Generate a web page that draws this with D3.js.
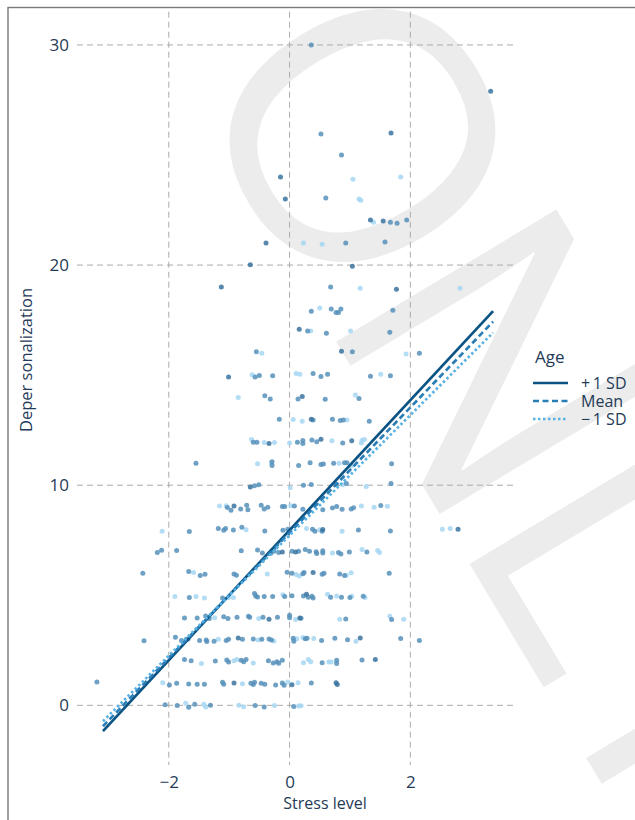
<!DOCTYPE html>
<html>
<head>
<meta charset="utf-8">
<script src="https://cdn.jsdelivr.net/npm/d3@7"></script>
<style>
  body { margin: 0; background: #fff; }
  svg text { font-family: "Open Sans", "Noto Sans", sans-serif; fill: #1f3b57; }
</style>
</head>
<body>
<div id="chart"></div>
<script>
// DATA (stress level, depersonalization) by age group

const plusSD = [
  [-0.92,1.01],[0.04,0.94],[0.77,1.03],[0.79,0.95],
  [1.42,2.08],
  [-0.85,3.06],[1.17,3.06],
  [-0.34,3.91],[0.17,3.97],
  [0.28,5.05],
  [0.39,6.03],
  [-0.12,6.97],[0.10,6.97],
  [0.55,7.99],[2.79,8.0],
  [-0.92,9.06],
  [-0.65,9.92],
  [-0.34,11.9],[0.52,12.09],[1.03,12.02],
  [0.36,13.0],
  [0.21,14.03],
  [-1.01,14.91],
  [0.86,16.09],
  [0.16,17.08],
  [-1.13,19.0],[1.77,18.9],
  [-0.65,20.02],[1.04,19.95],
  [-0.39,21.0],
  [1.34,22.05],[1.55,22.0],
  [-0.07,23.0],
  [-0.15,24.0],
  [1.68,26.0],
  [3.33,27.9]
]

const meanAge = [
  [-2.06,0.03],[-1.86,-0.01],[-1.67,-0.09],[-1.57,0.05],[-1.31,0],[-0.57,-0.01],[-0.42,-0.08],[0.07,-0.05],
  [-3.19,1.06],[-1.99,0.92],[-1.87,1.0],[-1.67,0.97],[-1.53,0.96],[-1.41,0.96],[-1.11,1.05],[-1.09,0.96],
  [-0.64,1.0],[-0.60,0.95],[-0.58,1.05],[-0.47,1.0],[-0.41,0.96],[-0.23,0.92],[-0.12,1.01],[-0.09,0.91],[0.36,1.01],
  [-1.74,2.08],[-1.63,2.03],[-1.23,2.01],[-1.04,2.06],[-1.01,1.97],[-0.80,2.05],[-0.76,1.98],[-0.72,2.08],
  [-0.35,2.03],[-0.27,1.92],[-0.21,1.98],[-0.18,1.91],[-0.12,2.05],[0.54,1.94],[0.78,2.05],[0.78,1.9],[1.20,2.06],
  [-2.41,2.93],[-1.89,3.09],[-1.79,2.94],[-1.71,3.0],[-1.68,3.01],[-1.49,2.95],[-1.38,2.97],[-1.37,2.9],[-1.25,2.91],
  [-1.05,2.95],[-1.01,3.0],[-0.78,3.0],[-0.60,3.01],[-0.46,3.0],[-0.34,3.01],[-0.30,2.97],[0.06,3.05],[0.07,2.91],
  [0.26,3.03],[0.29,3.05],[0.53,2.95],[0.75,3.05],[0.96,2.98],[1.84,3.04],[2.15,2.95],
  [-1.74,3.97],[-1.53,3.97],[-1.39,4.06],[-1.33,3.95],[-1.09,4.03],[-1.02,3.95],[-0.87,4.0],[-0.68,4.05],[-0.66,4.0],
  [-0.44,4.0],[-0.20,4.0],[0.0,4.09],[0.0,3.98],[0.19,3.96],[0.93,3.92],[1.69,3.9],
  [-1.66,4.9],[-1.11,4.88],[-0.58,5.08],[-0.56,4.97],[-0.53,4.92],[-0.42,4.94],[-0.28,4.94],[-0.08,4.94],[0.04,4.98],
  [0.23,4.97],[0.31,4.91],[0.37,4.96],[0.39,4.88],[0.68,4.91],[0.86,4.91],[1.00,4.9],[1.22,4.96],
  [-2.43,6.0],[-1.67,6.08],[-1.48,5.9],[-1.40,5.95],[-0.92,5.97],[-0.88,5.91],[-0.04,6.05],[0.04,6.0],[0.22,5.98],
  [0.24,6.03],[0.54,5.95],[0.57,6.0],[0.83,5.97],[0.91,5.9],[1.65,6.0],
  [-2.19,6.94],[-2.12,7.05],[-1.87,7.03],[-0.80,7.02],[-0.53,7.06],[-0.45,6.92],[-0.31,6.91],[-0.26,7.0],[-0.18,6.94],
  [0.04,7.0],[0.15,7.0],[0.26,7.08],[0.33,7.0],[0.44,6.98],[0.45,6.9],[0.55,7.02],[0.55,6.92],[0.81,6.94],[0.85,6.88],
  [0.99,6.97],[1.28,6.97],
  [-1.66,7.9],[-1.18,8.03],[-1.09,7.95],[-1.06,8.03],[-0.93,7.97],[-0.79,8.09],[-0.41,7.92],[-0.11,7.95],[-0.03,8.0],
  [0.38,8.0],[0.42,7.91],[0.54,7.91],[1.14,7.97],[1.67,7.92],
  [-1.03,8.99],[-0.97,8.86],[-0.81,8.92],[-0.71,9.09],[-0.69,8.89],[-0.47,9.09],[-0.42,8.92],[-0.36,9.0],[-0.12,9.03],
  [-0.08,9.03],[0.08,9.05],[0.22,8.91],[0.55,8.89],[0.71,8.97],[0.78,9.03],[0.87,8.91],[1.02,8.92],[1.06,8.98],[1.51,9.08],
  [-0.58,9.98],[-0.51,10.02],[0.23,10.0],[0.36,10.03],[0.78,10.03],[0.94,10.08],[1.68,10.08],
  [-1.55,11.0],[-0.29,11.06],[-0.29,10.9],[0.15,10.9],[0.34,11.02],[0.52,10.94],[0.56,10.96],[0.73,11.0],[0.91,11.02],
  [0.95,11.02],[1.69,10.97],
  [-0.60,11.95],[-0.54,11.95],[0.13,11.95],[0.22,12.03],[0.22,11.9],[0.37,12.05],[0.45,11.97],[0.88,11.92],
  [-0.17,13.0],[0.39,12.96],[0.71,13.0],[0.84,12.94],[0.89,12.96],[1.32,12.91],
  [-0.41,14.06],[-0.32,13.92],[0.14,13.92],[0.59,13.9],[1.15,13.94],
  [-0.57,14.91],[-0.50,14.98],[-0.28,14.97],[0.39,15.08],[0.52,14.94],[0.63,15.04],[1.34,14.95],[1.67,14.97],
  [-0.55,16.06],[1.04,16.06],[2.15,15.99],
  [0.30,17.0],[0.61,16.9],[1.66,16.95],
  [0.36,17.9],[0.69,18.0],[0.77,17.85],[0.85,18.0],[0.81,17.85],[1.71,17.95],
  [0.68,19.0],
  [0.93,21.0],[1.58,21.05],
  [1.67,21.95],[1.78,21.9],[1.94,22.05],
  [0.60,23.05],
  [0.86,25.0],
  [0.52,25.95],
  [0.36,30.0]
]

const minusSD = [
  [-1.72,0.09],[-1.42,0.05],[-1.39,-0.08],[-0.84,0],[-0.76,-0.06],[-0.25,-0.01],[0.15,-0.03],[0.19,-0.02],
  [-2.10,1.03],[-0.78,0.98],[-0.03,1.06],[0.14,1.03],
  [-1.46,1.9],[-0.92,2.03],[-0.87,2.08],[-0.60,1.92],[0.23,1.94],[0.31,2.08],[0.35,1.98],[0.65,1.97],[0.69,1.97],
  [-1.18,3.0],[-0.52,2.97],[-0.26,2.92],[0.12,3.03],[0.22,3.08],[0.40,3.04],[1.10,2.91],
  [-1.24,3.98],[-0.51,3.95],[0.10,3.9],[0.83,3.91],[1.66,4.05],[1.89,3.91],
  [-1.90,4.94],[-1.55,4.94],[-1.41,4.88],[-1.01,4.9],[-0.93,4.9],[-0.11,5.02],[0.63,5.05],[0.78,4.97],[1.03,4.96],[1.25,4.9],
  [-1.59,6.03],[-0.37,5.97],[0.11,5.94],[0.16,5.88],[0.94,5.91],[1.02,6.02],
  [-0.23,7.09],[0.71,6.92],[1.20,7.08],[1.46,7.03],[1.49,6.94],
  [-2.11,7.91],[-0.72,7.98],[0.01,7.98],[0.28,8.03],[0.50,7.98],[0.87,7.91],[2.53,8.0],[2.66,8.03],
  [-1.16,9.06],[-1.05,9.07],[0.02,9.07],[0.40,9.09],[1.19,9.06],[1.40,9.0],[1.62,9.04],
  [0.01,9.88],[0.88,10.02],[1.27,9.94],
  [-0.53,10.97],[-0.30,11.02],[0.82,11.0],[1.02,10.88],
  [-0.63,12.08],[-0.42,11.94],[-0.25,11.94],[0.00,11.92],[0.70,12.02],[1.19,11.92],[1.20,12.04],[1.24,12.08],
  [0.06,12.98],[0.21,12.91],[0.95,12.96],
  [-0.85,13.98],[1.09,14.1],
  [-0.62,15.02],[0.11,15.08],[0.17,15.04],[1.51,15.04],
  [-0.46,15.99],[1.93,15.96],
  [0.35,17.0],[1.01,17.0],
  [0.50,18.05],
  [1.17,18.95],[2.82,18.95],
  [0.23,21.0],[0.54,20.95],
  [1.39,21.95],
  [1.15,23.0],[1.18,22.95],
  [1.05,23.9],[1.84,24.0]
]

// simple slopes: stress range and fitted values at its two ends
const fitStress = [-3.09, 3.37]
const fitPlus = [-1.17, 17.91]
const fitMean = [-0.95, 17.43]
const fitMinus = [-0.72, 16.93]

const xTicks = [-2, 0, 2]
const yTicks = [0, 10, 20, 30]
const legendLabels = ["+\u20091 SD", "Mean", "\u2212\u20091 SD"]

// ----------------------------------------------------------
// CONSTANTS

const width = 635
const height = 820
const panel = { left: 77, right: 513, top: 11.7, bottom: 765 }

const svg = d3.select("#chart").append("svg").attr("width", width).attr("height", height)

// watermark
svg.append("text")
    .attr("transform", "translate(180,82) rotate(59)")
    .attr("font-family", "Liberation Sans, Arial, sans-serif")
    .attr("font-size", 360)
    .attr("letter-spacing", -12)
    .style("fill", "#ececec")
    .text("ONLY")

// frame
svg.append("rect")
    .attr("x", 8).attr("y", 7.5)
    .attr("width", 700).attr("height", 900)
    .attr("fill", "none").attr("stroke", "#7a7a7a").attr("stroke-width", 1.4)

// SCALES

const x = d3.scaleLinear().domain([-3.52, 3.70]).range([panel.left, panel.right])
const y = d3.scaleLinear().domain([-2.71, 31.51]).range([panel.bottom, panel.top])

// GRID

const grid = svg.append("g").attr("stroke", "#ababab").attr("stroke-width", 1).attr("stroke-dasharray", "6,4")
grid.selectAll(".gx").data(xTicks).join("line")
    .attr("x1", d => x(d)).attr("x2", d => x(d))
    .attr("y1", panel.top).attr("y2", panel.bottom)
grid.selectAll(".gy").data(yTicks).join("line")
    .attr("class", "gy")
    .attr("x1", panel.left).attr("x2", panel.right)
    .attr("y1", d => y(d)).attr("y2", d => y(d))

// AXES

const xAxisGroup = svg.append("g").attr("transform", `translate(0, ${panel.bottom})`)
    .call(d3.axisBottom(x).tickValues(xTicks).tickSize(0).tickPadding(11))
const yAxisGroup = svg.append("g").attr("transform", `translate(${panel.left}, 0)`)
    .call(d3.axisLeft(y).tickValues(yTicks).tickSize(0).tickPadding(8))
svg.selectAll(".domain").remove()
svg.selectAll(".tick text").attr("font-size", 17).attr("font-family", null)

svg.append("text")
    .attr("x", 325).attr("y", 809)
    .attr("text-anchor", "middle").attr("font-size", 16)
    .text("Stress level")
svg.append("text")
    .attr("transform", "translate(32, 360) rotate(-90)")
    .attr("text-anchor", "middle").attr("font-size", 16.5)
    .text("Deper sonalization")

// POINTS

const groups = [
    { data: minusSD, color: "#a6d6f3" },
    { data: meanAge, color: "#5690bb" },
    { data: plusSD, color: "#3a739f" }
]
groups.forEach(g => {
    svg.append("g").selectAll("circle").data(g.data).join("circle")
        .attr("cx", d => x(d[0]))
        .attr("cy", d => y(d[1]))
        .attr("r", 2.5)
        .attr("fill", g.color)
        .attr("fill-opacity", 0.85)
})

// LINES

const lines = [
    { fit: fitPlus, color: "#0b5383", dash: null },
    { fit: fitMean, color: "#2b7db6", dash: "6,3.5" },
    { fit: fitMinus, color: "#58b1e3", dash: "2.5,2.5" }
]
const lineGen = d3.line().x(d => x(d[0])).y(d => y(d[1]))
lines.forEach(l => {
    svg.append("path")
        .datum(fitStress.map((s, i) => [s, l.fit[i]]))
        .attr("d", lineGen)
        .attr("fill", "none")
        .attr("stroke", l.color)
        .attr("stroke-width", 2.7)
        .attr("stroke-dasharray", l.dash)
})

// LEGEND

const legend = svg.append("g").attr("transform", "translate(533, 0)")
legend.append("text").attr("x", 2).attr("y", 363).attr("font-size", 17).text("Age")
const legendY = [383, 401, 419]
lines.forEach((l, i) => {
    legend.append("line")
        .attr("x1", 0).attr("x2", 35)
        .attr("y1", legendY[i]).attr("y2", legendY[i])
        .attr("stroke", l.color).attr("stroke-width", 2.7)
        .attr("stroke-dasharray", l.dash)
    legend.append("text")
        .attr("x", 48).attr("y", legendY[i] + 5.5)
        .attr("font-size", 16)
        .text(legendLabels[i])
})
</script>
</body>
</html>
